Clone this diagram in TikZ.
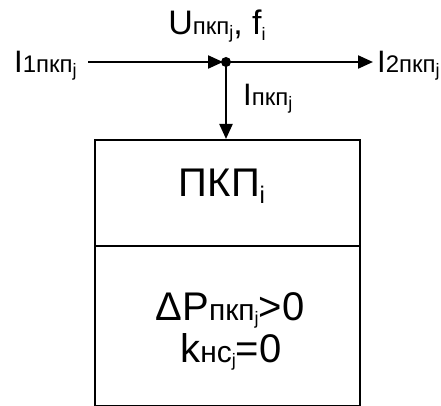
\documentclass[tikz,border=0pt]{standalone}
\usepackage{fontspec}
\setmainfont{Liberation Sans}
\usetikzlibrary{arrows.meta}
\newcommand\sbs[1]{{\fontsize{24}{24}\selectfont #1}}
\newcommand\ssbs[1]{\raisebox{-0.15em}{\fontsize{18}{18}\selectfont #1}}
\newcommand\tsbs[1]{\raisebox{-0.18em}{\fontsize{24}{24}\selectfont #1}}
\newcommand\bsbs[1]{{\fontsize{30}{30}\selectfont #1}}
\tikzset{
  wire/.style={line width=2.2pt,-{Triangle[length=15pt,width=13pt]}},
  lbl/.style={inner sep=0pt,anchor=base west,font=\fontsize{31}{31}\selectfont},
  btxt/.style={inner sep=0pt,anchor=base,font=\fontsize{40}{40}\selectfont},
  box/.style={draw,line width=2.2pt}
}
\begin{document}
\begin{tikzpicture}[x=1pt,y=-1pt]
\useasboundingbox (0,0) rectangle (441,406);
\coordinate (J) at (226,62);
\coordinate (L) at (88,62);
\coordinate (R) at (373,62);
\coordinate (Jm) at (223,62);
\node[box,minimum width=265pt,minimum height=106pt,anchor=north west] (top) at (94,139) {};
\node[box,minimum width=265pt,minimum height=160pt,anchor=north west] (bot) at (94,245) {};
\node[btxt,font=\fontsize{40}{40}\selectfont] (t) at (222,196) {ПКП\tsbs{i}};
\node[btxt] (b1) at (230,320) {ΔP\bsbs{пкп\ssbs{j}}>0};
\node[btxt] (b2) at (231,362) {k\bsbs{нс\ssbs{j}}=0};
\draw[wire] (L) -- (Jm);
\draw[wire] (J) -- (R);
\draw[wire] (J) -- (top.north -| J);
\fill (J) circle (5pt);
\node[lbl] (i1) at (14,73) {I\sbs{1пкп\ssbs{j}}};
\node[lbl] (i2) at (377,73) {I\sbs{2пкп\ssbs{j}}};
\node[lbl] (ip) at (243,106) {I\sbs{пкп\ssbs{j}}};
\node[lbl,anchor=base,font=\fontsize{34}{34}\selectfont] (u) at (217,35) {U\sbs{пкп\ssbs{j}}, f\ssbs{i}};
\end{tikzpicture}
\end{document}
